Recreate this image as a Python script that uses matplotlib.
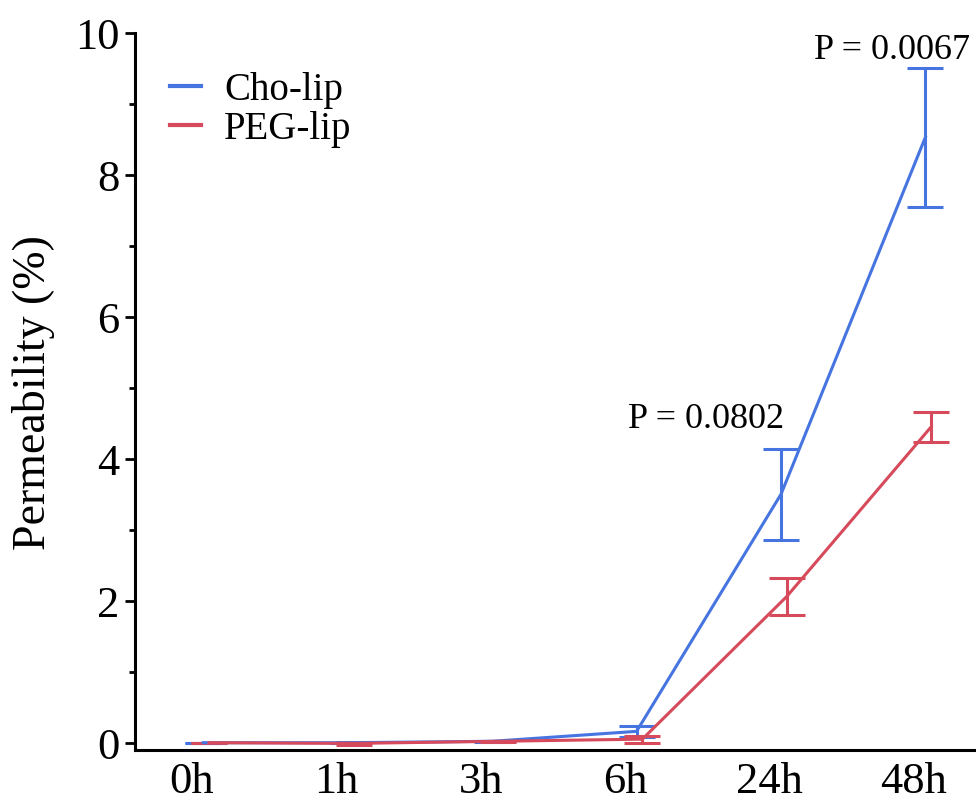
import matplotlib
matplotlib.use('Agg')
import matplotlib.pyplot as plt
import numpy as np
from matplotlib.lines import Line2D
from matplotlib.ticker import MultipleLocator

# data
times = ['0h', '1h', '3h', '6h', '24h', '48h']
cho_mean = [0.0, 0.0, 0.02, 0.16, 3.50, 8.53]
cho_err = [0.0, 0.0, 0.01, 0.08, 0.64, 0.98]
peg_mean = [0.0, -0.01, 0.02, 0.05, 2.06, 4.45]
peg_err = [0.0, 0.02, 0.01, 0.05, 0.26, 0.21]
p_texts = ['P = 0.0802', 'P = 0.0067']
p_x = [3.56, 4.85]
p_y = [4.56, 9.76]

blue = '#4674E0'
red = '#D64A5B'

plt.rcParams['font.family'] = ['Liberation Serif', 'DejaVu Serif']

fig = plt.figure(figsize=(9.76, 8.03), dpi=100)
ax = fig.add_axes([0.138, 0.065, 0.862, 0.893])

x = np.arange(len(times))
ax.errorbar(x + 0.08, cho_mean, yerr=cho_err, color=blue, lw=2.2,
            elinewidth=2.2, capsize=13, capthick=2.2)
ax.errorbar(x + 0.12, peg_mean, yerr=peg_err, color=red, lw=2.2,
            elinewidth=2.2, capsize=13, capthick=2.2)

for txt, tx, ty in zip(p_texts, p_x, p_y):
    ax.text(tx, ty, txt, ha='center', va='center', fontsize=26)

ax.set_xlim(-0.395, 5.43)
ax.set_ylim(-0.1, 10)
ax.set_xticks(x)
ax.set_xticklabels(times, fontsize=32)
ax.yaxis.set_major_locator(MultipleLocator(2))
ax.yaxis.set_minor_locator(MultipleLocator(1))
ax.tick_params(axis='y', which='major', labelsize=32, length=7, width=2, pad=4)
ax.tick_params(axis='y', which='minor', length=4, width=2)
ax.tick_params(axis='x', length=0, pad=8)
ax.set_ylabel('Permeability (%)', fontsize=33, labelpad=14)

for s in ['top', 'right']:
    ax.spines[s].set_visible(False)
for s in ['left', 'bottom']:
    ax.spines[s].set_linewidth(2.2)

handles = [Line2D([], [], color=blue, lw=3), Line2D([], [], color=red, lw=3)]
ax.legend(handles, ['Cho-lip', 'PEG-lip'], loc='upper left',
          bbox_to_anchor=(0.0, 0.995), frameon=False, fontsize=28,
          handlelength=0.8, handletextpad=0.6, labelspacing=0.05)

fig.savefig('out.png', dpi=100)
